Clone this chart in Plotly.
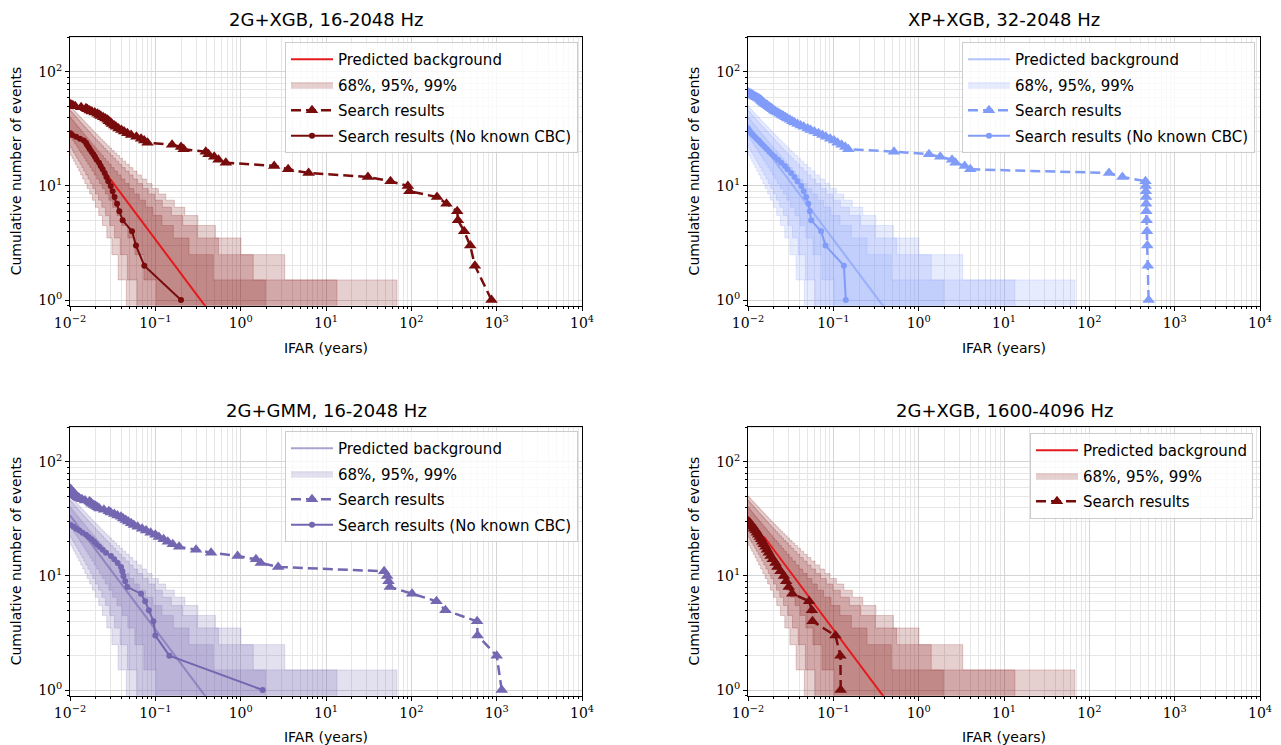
import math
import plotly.graph_objects as go

# ---------------- data ----------------
TITLES = ["2G+XGB, 16-2048 Hz", "XP+XGB, 32-2048 Hz", "2G+GMM, 16-2048 Hz", "2G+XGB, 1600-4096 Hz"]
LIVETIME = [0.34, 0.34, 0.34, 0.34]          # years (predicted background N = T / IFAR)
CONF_LEVELS = [0.99, 0.95, 0.68]

# IFAR (years) of search results, ordered by cumulative count N = 1, 2, 3, ...
P1_TRI = [870, 556, 490, 416, 352, 345, 258, 200, 95, 91, 57, 31, 6.25, 3.6, 2.47, 0.67, 0.55, 0.49,
          0.42, 0.39, 0.215, 0.20, 0.157, 0.081, 0.074, 0.068, 0.060, 0.052, 0.047, 0.043, 0.040,
          0.037, 0.0346, 0.033, 0.031, 0.030, 0.0285, 0.0276, 0.026, 0.0245, 0.023, 0.0221, 0.021,
          0.0195, 0.018, 0.017, 0.016, 0.0154, 0.0135, 0.0115, 0.0108, 0.0102]
P1_DOT = [0.20, 0.0743, 0.0593, 0.0533, 0.0414, 0.0379, 0.0356, 0.0333, 0.0316, 0.030, 0.0281,
          0.0267, 0.0255, 0.0241, 0.0229, 0.0219, 0.0205, 0.0196, 0.0188, 0.0179, 0.0171, 0.0165,
          0.0158, 0.0154, 0.0145, 0.0131, 0.0118, 0.0106, 0.0101]

P2_TRI = [495, 485, 478, 474, 470, 466, 464, 462, 460, 458, 455, 244, 170, 4.03, 3.46, 2.7, 2.46,
          1.79, 1.32, 0.514, 0.150, 0.138, 0.125, 0.112, 0.102, 0.092, 0.082, 0.0743, 0.067, 0.060,
          0.0542, 0.050, 0.045, 0.0414, 0.038, 0.035, 0.033, 0.031, 0.0289, 0.0275, 0.026, 0.0248,
          0.0235, 0.0222, 0.021, 0.0202, 0.0195, 0.0188, 0.0181, 0.0175, 0.0168, 0.0162, 0.0156,
          0.0151, 0.0147, 0.0144, 0.0141, 0.0136, 0.0131, 0.0126, 0.0121, 0.0117, 0.0113, 0.0109,
          0.0105, 0.0101]
P2_DOT = [0.140, 0.133, 0.081, 0.072, 0.055, 0.053, 0.051, 0.048, 0.045, 0.042, 0.038, 0.035,
          0.032, 0.029, 0.027, 0.0245, 0.0225, 0.0205, 0.019, 0.0178, 0.0167, 0.0157, 0.0148,
          0.014, 0.0133, 0.0126, 0.012, 0.0114, 0.0109, 0.0105, 0.0102, 0.0100]

P3_TRI = [1146, 1000, 597, 590, 251, 197, 102, 56, 54, 52, 48, 2.75, 1.72, 1.51, 0.92, 0.45, 0.30,
          0.19, 0.16, 0.14, 0.125, 0.11, 0.10, 0.088, 0.078, 0.070, 0.062, 0.056, 0.052, 0.048,
          0.045, 0.042, 0.0396, 0.036, 0.033, 0.030, 0.0285, 0.025, 0.0221, 0.021, 0.020, 0.019,
          0.018, 0.0175, 0.0169, 0.015, 0.0138, 0.0129, 0.0124, 0.012, 0.0117, 0.0114, 0.0111,
          0.0109, 0.0107, 0.0105, 0.0103, 0.0101]
P3_DOT = [1.81, 0.146, 0.100, 0.095, 0.084, 0.076, 0.068, 0.047, 0.0444, 0.0422, 0.041, 0.0396,
          0.0362, 0.033, 0.0302, 0.0264, 0.0241, 0.0221, 0.0205, 0.0193, 0.0179, 0.0165, 0.0154,
          0.014, 0.0129, 0.0118, 0.011, 0.0102]

P4_TRI = [0.122, 0.121, 0.106, 0.057, 0.056, 0.052, 0.033, 0.030, 0.028, 0.0264, 0.024, 0.0221,
          0.021, 0.0195, 0.0184, 0.0175, 0.0167, 0.016, 0.0153, 0.0147, 0.0142, 0.0137, 0.0132,
          0.0127, 0.0123, 0.0118, 0.0114, 0.011, 0.0106, 0.0102]
P4_DOT = None

TRI_DATA = [P1_TRI, P2_TRI, P3_TRI, P4_TRI]
DOT_DATA = [P1_DOT, P2_DOT, P3_DOT, P4_DOT]

X_TICKVALS = [1e-2, 1e-1, 1e0, 1e1, 1e2, 1e3, 1e4]
X_TICKTEXT = ["10<sup>−2</sup>", "10<sup>−1</sup>", "10<sup>0</sup>", "10<sup>1</sup>",
              "10<sup>2</sup>", "10<sup>3</sup>", "10<sup>4</sup>"]
Y_TICKVALS = [1, 10, 100]
Y_TICKTEXT = ["10<sup>0</sup>", "10<sup>1</sup>", "10<sup>2</sup>"]
# IFAR span (years) over which each predicted-background line is drawn
BG_IFAR_START = [0.026, 0.01, 0.01, 0.0154]
BG_IFAR_END = [1.0, 1.0, 1.0, 1.0]

LEGEND_LABELS = ["Predicted background", "68%, 95%, 99%", "Search results", "Search results (No known CBC)"]

# ---------------- styling ----------------
DARK = ["#780c0c", "#809cf8", "#7466b1", "#780c0c"]
BGLINE = ["#e41a1c", "rgba(128,156,248,0.6)", "rgba(116,102,177,0.6)", "#e41a1c"]
BAND = ["rgba(128,14,14,0.2)", "rgba(128,156,248,0.2)", "rgba(116,102,177,0.2)", "rgba(128,14,14,0.2)"]

OFF = 8                      # page body margin of the browser
W, H = 1281 - OFF, 745 - OFF
ML, MR, MT, MB = 62, 21, 28, 49
PW, PH = W - ML - MR, H - MT - MB
def px_x(p): return (p - OFF - ML) / PW          # screen pixel -> paper
def px_y(p): return (H - MB - (p - OFF)) / PH
XDOM = [[px_x(70), px_x(582)], [px_x(748), px_x(1260)]]
YDOM = [[px_y(305.7), px_y(36.5)], [px_y(695.7), px_y(426.5)]]
YRANGE = [-0.05, 2.311]

TXT = "DejaVu Sans"
TICKF = "DejaVu Serif"


# ---------------- Poisson quantile bands ----------------
def pois_cdf(k, mu):
    if k < 0:
        return 0.0
    lm = math.log(mu)
    return min(1.0, sum(math.exp(i * lm - mu - math.lgamma(i + 1)) for i in range(k + 1)))


def solve_mu(k, target):
    # find mu with CDF(k; mu) = target (CDF decreasing in mu)
    lo, hi = -8.0, 3.0
    for _ in range(80):
        mid = 0.5 * (lo + hi)
        if pois_cdf(k, 10 ** mid) > target:
            lo = mid
        else:
            hi = mid
    return 10 ** (0.5 * (lo + hi))


def band_polygon(T, cl, nmax=90):
    a = (1 - cl) / 2
    xl, xr = [], []
    for n in range(1, nmax + 1):
        mu_hi = solve_mu(n, a)
        mu_lo = solve_mu(n - 1, 1 - a)
        xl.append(T / mu_hi)
        xr.append(T / mu_lo)
    px, py = [], []
    for i, n in enumerate(range(1, nmax + 1)):
        px += [xr[i], xr[i]]
        py += [n - 0.5, n + 0.5]
    for i in range(nmax - 1, -1, -1):
        n = i + 1
        px += [xl[i], xl[i]]
        py += [n + 0.5, n - 0.5]
    px.append(px[0]); py.append(py[0])
    return px, py


fig = go.Figure()
minor_x = [m * 10 ** k for k in range(-2, 4) for m in range(2, 10)]
minor_y = [m * 10 ** k for k in range(-1, 3) for m in range(2, 10)]

for p in range(4):
    r, c = divmod(p, 2)
    ax = "" if p == 0 else str(p + 1)
    xa, ya = "x" + ax, "y" + ax
    leg = "legend" if p == 0 else "legend" + str(p + 1)
    T = LIVETIME[p]

    for j, cl in enumerate(CONF_LEVELS):
        bx, by = band_polygon(T, cl)
        fig.add_trace(go.Scatter(x=bx, y=by, mode="lines", fill="toself", fillcolor=BAND[p],
                                 line=dict(color=BAND[p], width=1), name=LEGEND_LABELS[1],
                                 legendgroup="band%d" % p, showlegend=(j == 0), legendrank=2,
                                 legend=leg, xaxis=xa, yaxis=ya, hoverinfo="skip"))
    bgx = [BG_IFAR_START[p], BG_IFAR_END[p]]
    bgy = [T / v for v in bgx]
    fig.add_trace(go.Scatter(x=bgx, y=bgy, mode="lines", line=dict(color=BGLINE[p], width=2),
                             name=LEGEND_LABELS[0], legendgroup="bg%d" % p, legendrank=1,
                             legend=leg, xaxis=xa, yaxis=ya))
    tri = TRI_DATA[p]
    fig.add_trace(go.Scatter(x=tri, y=list(range(1, len(tri) + 1)), mode="lines+markers",
                             line=dict(color=DARK[p], width=2.5, dash="10px,5px"),
                             marker=dict(symbol="triangle-up", size=11, color=DARK[p]),
                             name=LEGEND_LABELS[2], legendgroup="tri%d" % p, legendrank=3,
                             legend=leg, xaxis=xa, yaxis=ya))
    dot = DOT_DATA[p]
    if dot is not None:
        fig.add_trace(go.Scatter(x=dot, y=list(range(1, len(dot) + 1)), mode="lines+markers",
                                 line=dict(color=DARK[p], width=2),
                                 marker=dict(symbol="circle", size=6, color=DARK[p]),
                                 name=LEGEND_LABELS[3], legendgroup="dot%d" % p, legendrank=4,
                                 legend=leg, xaxis=xa, yaxis=ya))

    common = dict(showline=True, linecolor="black", linewidth=1, mirror=True, ticks="outside",
                  ticklen=4, tickcolor="black", showgrid=True, gridcolor="#d4d4d4", gridwidth=1,
                  zeroline=False, automargin=False,
                  tickfont=dict(family=TICKF, size=14, color="black"))
    fig.layout["xaxis" + ax] = dict(type="log", range=[-2, 4], domain=XDOM[c], anchor=ya,
                                    tickmode="array", tickvals=X_TICKVALS, ticktext=X_TICKTEXT,
                                    minor=dict(tickmode="array", tickvals=minor_x, ticks="outside",
                                               ticklen=2, tickcolor="black", showgrid=True,
                                               gridcolor="#e6e6e6"),
                                    title=dict(text="IFAR (years)", standoff=13,
                                               font=dict(family=TXT, size=14, color="black")),
                                    **common)
    fig.layout["yaxis" + ax] = dict(type="log", range=YRANGE, domain=YDOM[r], anchor=xa,
                                    tickmode="array", tickvals=Y_TICKVALS, ticktext=Y_TICKTEXT,
                                    minor=dict(tickmode="array", tickvals=minor_y, ticks="outside",
                                               ticklen=2, tickcolor="black", showgrid=True,
                                               gridcolor="#e6e6e6"),
                                    title=dict(text="Cumulative number of events", standoff=13,
                                               font=dict(family=TXT, size=14, color="black")),
                                    **common)
    fig.add_annotation(text=TITLES[p], xref="paper", yref="paper",
                       x=(XDOM[c][0] + XDOM[c][1]) / 2, y=YDOM[r][1], yshift=4,
                       xanchor="center", yanchor="bottom", showarrow=False,
                       font=dict(family=TXT, size=18, color="black"))

legend_pos = [(px_x(578), px_y(42)), (px_x(1255), px_y(42)), (px_x(578), px_y(431)), (px_x(1253), px_y(433))]
for p in range(4):
    key = "legend" if p == 0 else "legend" + str(p + 1)
    lx, ly = legend_pos[p]
    fig.layout[key] = dict(x=lx, y=ly, xanchor="right", yanchor="top", xref="paper", yref="paper",
                           bgcolor="rgba(255,255,255,0.8)", bordercolor="#cccccc", borderwidth=1,
                           font=dict(family=TXT, size=15, color="black"), tracegroupgap=3,
                           traceorder="grouped", itemwidth=42)

fig.update_layout(width=W, height=H, margin=dict(l=ML, r=MR, t=MT, b=MB),
                  paper_bgcolor="white", plot_bgcolor="white")
fig.write_html("out.html")
